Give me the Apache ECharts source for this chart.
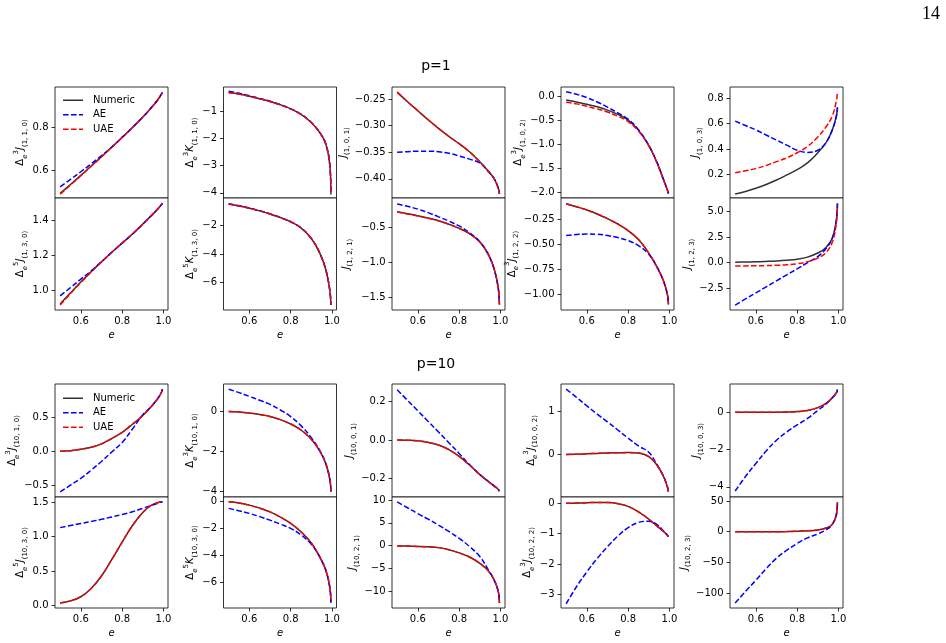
<!DOCTYPE html>
<html>
<head>
<meta charset="utf-8">
<script src="https://cdn.jsdelivr.net/npm/echarts@6/dist/echarts.min.js"></script>
<style>
html, body { margin: 0; padding: 0; background: #fff; }
#chart { width: 946px; height: 643px; }
</style>
</head>
<body>
<div id="chart"></div>
<script>
// eccentricity samples shared by every panel
var E = [0.5, 0.55, 0.6, 0.65, 0.7, 0.75, 0.8, 0.85, 0.9, 0.94, 0.97, 0.99, 0.995];
var X_TICKS = [0.6, 0.8, 1.0];

// ---- p = 1 ----
var j110_num = [0.490, 0.532, 0.575, 0.619, 0.663, 0.708, 0.754, 0.801, 0.850, 0.893, 0.928, 0.958, 0.966];
var j110_ae  = [0.521, 0.556, 0.592, 0.629, 0.668, 0.709, 0.754, 0.801, 0.850, 0.893, 0.928, 0.958, 0.966];
var j110_uae = [0.486, 0.529, 0.573, 0.618, 0.662, 0.708, 0.754, 0.801, 0.850, 0.893, 0.928, 0.958, 0.966];

var j130_num = [0.920, 0.984, 1.046, 1.105, 1.161, 1.216, 1.268, 1.320, 1.377, 1.424, 1.460, 1.488, 1.496];
var j130_ae  = [0.967, 1.014, 1.062, 1.110, 1.162, 1.216, 1.268, 1.320, 1.377, 1.424, 1.460, 1.488, 1.496];
var j130_uae = [0.914, 0.980, 1.043, 1.103, 1.160, 1.216, 1.268, 1.320, 1.377, 1.424, 1.460, 1.488, 1.496];

var k110_num = [-0.32, -0.38, -0.46, -0.55, -0.65, -0.77, -0.92, -1.12, -1.42, -1.78, -2.2, -3.0, -4.05];
var k110_ae  = [-0.28, -0.35, -0.44, -0.54, -0.64, -0.77, -0.92, -1.12, -1.42, -1.78, -2.2, -3.0, -4.05];
var k110_uae = [-0.32, -0.38, -0.46, -0.55, -0.65, -0.77, -0.92, -1.12, -1.42, -1.78, -2.2, -3.0, -4.05];

var k130_num = [-0.47, -0.60, -0.76, -0.95, -1.17, -1.42, -1.72, -2.15, -2.9, -3.9, -5.1, -6.6, -7.6];
var k130_ae  = [-0.45, -0.58, -0.75, -0.94, -1.16, -1.42, -1.72, -2.15, -2.9, -3.9, -5.1, -6.6, -7.6];
var k130_uae = [-0.47, -0.60, -0.76, -0.95, -1.17, -1.42, -1.72, -2.15, -2.9, -3.9, -5.1, -6.6, -7.6];

var j101_num = [-0.237, -0.255, -0.272, -0.289, -0.305, -0.320, -0.334, -0.349, -0.368, -0.385, -0.400, -0.418, -0.428];
var j101_ae  = [-0.350, -0.349, -0.348, -0.348, -0.349, -0.352, -0.357, -0.363, -0.370, -0.386, -0.400, -0.418, -0.428];
var j101_uae = [-0.237, -0.255, -0.272, -0.289, -0.305, -0.320, -0.334, -0.349, -0.368, -0.385, -0.400, -0.418, -0.428];

var j121_num = [-0.277, -0.305, -0.334, -0.368, -0.405, -0.455, -0.514, -0.590, -0.71, -0.88, -1.10, -1.38, -1.60];
var j121_ae  = [-0.167, -0.200, -0.240, -0.290, -0.350, -0.410, -0.480, -0.575, -0.705, -0.88, -1.10, -1.38, -1.60];
var j121_uae = [-0.282, -0.309, -0.337, -0.370, -0.406, -0.455, -0.514, -0.590, -0.71, -0.88, -1.10, -1.38, -1.60];

var j102_num = [-0.07, -0.11, -0.16, -0.21, -0.28, -0.37, -0.49, -0.70, -1.02, -1.38, -1.72, -1.95, -2.03];
var j102_ae  = [0.105, 0.05, -0.02, -0.11, -0.22, -0.34, -0.47, -0.69, -1.02, -1.38, -1.72, -1.95, -2.03];
var j102_uae = [-0.117, -0.15, -0.20, -0.255, -0.32, -0.41, -0.52, -0.72, -1.03, -1.39, -1.73, -1.96, -2.04];

var j122_num = [-0.098, -0.128, -0.16, -0.20, -0.247, -0.30, -0.365, -0.455, -0.59, -0.73, -0.86, -1.0, -1.1];
var j122_ae  = [-0.414, -0.405, -0.40, -0.402, -0.415, -0.435, -0.465, -0.515, -0.60, -0.73, -0.86, -1.0, -1.1];
var j122_uae = [-0.098, -0.128, -0.16, -0.20, -0.247, -0.30, -0.365, -0.455, -0.59, -0.73, -0.86, -1.0, -1.1];

var j103_num = [0.044, 0.065, 0.09, 0.12, 0.155, 0.195, 0.237, 0.29, 0.37, 0.45, 0.55, 0.66, 0.72];
var j103_ae  = [0.62, 0.585, 0.55, 0.51, 0.47, 0.43, 0.39, 0.372, 0.39, 0.45, 0.55, 0.66, 0.73];
var j103_uae = [0.213, 0.228, 0.245, 0.27, 0.30, 0.33, 0.37, 0.42, 0.495, 0.575, 0.66, 0.78, 0.85];

var j123_num = [0.05, 0.07, 0.09, 0.13, 0.18, 0.25, 0.35, 0.55, 0.95, 1.5, 2.4, 4.2, 5.8];
var j123_ae  = [-4.15, -3.55, -2.96, -2.37, -1.77, -1.18, -0.6, 0.0, 0.6, 1.4, 2.4, 4.2, 5.8];
var j123_uae = [-0.32, -0.31, -0.30, -0.28, -0.25, -0.20, -0.10, 0.10, 0.45, 1.0, 2.0, 3.9, 5.6];

// ---- p = 10 ----
var q110_num = [0.0, 0.01, 0.03, 0.06, 0.11, 0.19, 0.28, 0.40, 0.53, 0.66, 0.77, 0.87, 0.92];
var q110_ae  = [-0.6, -0.5, -0.4, -0.28, -0.15, -0.01, 0.13, 0.33, 0.54, 0.66, 0.77, 0.87, 0.92];
var q110_uae = [0.0, 0.01, 0.03, 0.06, 0.11, 0.19, 0.28, 0.40, 0.53, 0.66, 0.77, 0.87, 0.92];

var q130_num = [0.04, 0.07, 0.13, 0.25, 0.43, 0.67, 0.92, 1.16, 1.35, 1.45, 1.49, 1.50, 1.50];
var q130_ae  = [1.13, 1.16, 1.19, 1.22, 1.25, 1.285, 1.32, 1.36, 1.41, 1.45, 1.48, 1.50, 1.50];
var q130_uae = [0.04, 0.07, 0.13, 0.25, 0.43, 0.67, 0.92, 1.16, 1.35, 1.45, 1.49, 1.50, 1.50];

var r110_num = [0.0, -0.02, -0.07, -0.14, -0.24, -0.4, -0.62, -0.92, -1.38, -1.95, -2.6, -3.4, -4.0];
var r110_ae  = [1.12, 0.95, 0.76, 0.57, 0.36, 0.08, -0.25, -0.7, -1.3, -1.93, -2.6, -3.4, -4.0];
var r110_uae = [0.0, -0.02, -0.07, -0.14, -0.24, -0.4, -0.62, -0.92, -1.38, -1.95, -2.6, -3.4, -4.0];

var r130_num = [-0.05, -0.14, -0.3, -0.52, -0.8, -1.18, -1.65, -2.27, -3.1, -4.1, -5.1, -6.4, -7.5];
var r130_ae  = [-0.54, -0.72, -0.91, -1.15, -1.41, -1.7, -2.02, -2.5, -3.2, -4.1, -5.1, -6.4, -7.5];
var r130_uae = [-0.05, -0.14, -0.3, -0.52, -0.8, -1.18, -1.65, -2.27, -3.1, -4.1, -5.1, -6.4, -7.5];

var q101_num = [0.0, -0.001, -0.004, -0.012, -0.026, -0.05, -0.085, -0.13, -0.18, -0.215, -0.24, -0.258, -0.266];
var q101_ae  = [0.262, 0.207, 0.152, 0.097, 0.042, -0.014, -0.07, -0.128, -0.18, -0.215, -0.24, -0.258, -0.266];
var q101_uae = [0.0, -0.001, -0.004, -0.012, -0.026, -0.05, -0.085, -0.13, -0.18, -0.215, -0.24, -0.258, -0.266];

var q121_num = [-0.1, -0.12, -0.18, -0.28, -0.45, -0.9, -1.6, -2.5, -3.9, -5.5, -7.6, -10.2, -12.6];
var q121_ae  = [9.6, 8.3, 7.0, 5.8, 4.5, 3.1, 1.6, -0.2, -2.4, -5.2, -7.6, -10.2, -12.6];
var q121_uae = [-0.1, -0.12, -0.18, -0.28, -0.45, -0.9, -1.6, -2.5, -3.9, -5.5, -7.6, -10.2, -12.6];

var q102_num = [0.0, 0.005, 0.015, 0.025, 0.035, 0.04, 0.045, 0.035, -0.05, -0.25, -0.5, -0.75, -0.87];
var q102_ae  = [1.52, 1.33, 1.13, 0.94, 0.76, 0.57, 0.38, 0.2, 0.05, -0.24, -0.5, -0.75, -0.87];
var q102_uae = [0.0, 0.005, 0.015, 0.025, 0.035, 0.04, 0.045, 0.035, -0.05, -0.25, -0.5, -0.75, -0.87];

var q122_num = [0.0, 0.01, 0.02, 0.03, 0.03, -0.01, -0.1, -0.28, -0.52, -0.75, -0.92, -1.05, -1.1];
var q122_ae  = [-3.31, -2.75, -2.26, -1.82, -1.43, -1.08, -0.8, -0.63, -0.59, -0.7, -0.9, -1.04, -1.1];
var q122_uae = [0.0, 0.01, 0.02, 0.03, 0.03, -0.01, -0.1, -0.28, -0.52, -0.75, -0.92, -1.05, -1.1];

var q103_num = [0.0, 0.0, 0.0, 0.002, 0.006, 0.015, 0.04, 0.1, 0.25, 0.48, 0.78, 1.05, 1.22];
var q103_ae  = [-4.23, -3.45, -2.75, -2.08, -1.5, -1.05, -0.68, -0.33, 0.1, 0.45, 0.78, 1.05, 1.22];
var q103_uae = [0.0, 0.0, 0.0, 0.002, 0.006, 0.015, 0.04, 0.1, 0.25, 0.48, 0.78, 1.05, 1.22];

var q123_num = [0, 0, 0, 0, 0.1, 0.3, 0.7, 1.5, 3, 6, 12, 28, 48];
var q123_ae  = [-116, -97, -79, -60, -43, -30, -19, -10, -3.5, 3, 12, 28, 48];
var q123_uae = [0, 0, 0, 0, 0.1, 0.3, 0.7, 1.5, 3, 6, 12, 28, 48];

// y tick labels per panel
var yt_j110 = [0.6, 0.8],            yt_j130 = [1.0, 1.2, 1.4];
var yt_k110 = [-4, -3, -2, -1],      yt_k130 = [-6, -4, -2];
var yt_j101 = [-0.40, -0.35, -0.30, -0.25], yt_j121 = [-1.5, -1.0, -0.5];
var yt_j102 = [-2.0, -1.5, -1.0, -0.5, 0.0], yt_j122 = [-1.00, -0.75, -0.50, -0.25];
var yt_j103 = [0.2, 0.4, 0.6, 0.8],  yt_j123 = [-2.5, 0.0, 2.5, 5.0];
var yt_q110 = [-0.5, 0.0, 0.5],      yt_q130 = [0.0, 0.5, 1.0, 1.5];
var yt_r110 = [-4, -2, 0],           yt_r130 = [-6, -4, -2, 0];
var yt_q101 = [-0.2, 0.0, 0.2],      yt_q121 = [-10, -5, 0, 5, 10];
var yt_q102 = [0, 1],                yt_q122 = [-3, -2, -1, 0];
var yt_q103 = [-4, -2, 0],           yt_q123 = [-100, -50, 0, 50];

var COL_LEFT = [55, 223.5, 392, 561, 730];
var COL_W = 113;
var ROWS = [[87, 111], [198, 112], [384, 113], [497, 111]];

// panel table: [col, row, delta order (0 = none), letter, indices, num, ae, uae, ymin, ymax, ticks, decimals, nameGap]
var panels = [
  [0, 0, 3, 'J', '1, 1, 0', j110_num, j110_ae, j110_uae, 0.468, 0.992, yt_j110, 1, 33],
  [0, 1, 5, 'J', '1, 3, 0', j130_num, j130_ae, j130_uae, 0.886, 1.526, yt_j130, 1, 33],
  [1, 0, 3, 'K', '1, 1, 0', k110_num, k110_ae, k110_uae, -4.19, -0.12, yt_k110, 0, 31],
  [1, 1, 5, 'K', '1, 3, 0', k130_num, k130_ae, k130_uae, -7.96, -0.04, yt_k130, 0, 31],
  [2, 0, 0, 'J', '1, 0, 1', j101_num, j101_ae, j101_uae, -0.436, -0.2274, yt_j101, 2, 46],
  [2, 1, 0, 'J', '1, 2, 1', j121_num, j121_ae, j121_uae, -1.68, -0.081, yt_j121, 1, 46],
  [3, 0, 3, 'J', '1, 0, 2', j102_num, j102_ae, j102_uae, -2.12, 0.203, yt_j102, 1, 41],
  [3, 1, 3, 'J', '1, 2, 2', j122_num, j122_ae, j122_uae, -1.156, -0.041, yt_j122, 2, 41],
  [4, 0, 0, 'J', '1, 0, 3', j103_num, j103_ae, j103_uae, 0.013, 0.889, yt_j103, 1, 31],
  [4, 1, 0, 'J', '1, 2, 3', j123_num, j123_ae, j123_uae, -4.63, 6.34, yt_j123, 1, 41],
  [0, 2, 3, 'J', '10, 1, 0', q110_num, q110_ae, q110_uae, -0.676, 0.996, yt_q110, 1, 42],
  [0, 3, 5, 'J', '10, 3, 0', q130_num, q130_ae, q130_uae, -0.033, 1.573, yt_q130, 1, 33],
  [1, 2, 3, 'K', '10, 1, 0', r110_num, r110_ae, r110_uae, -4.27, 1.38, yt_r110, 0, 31],
  [1, 3, 5, 'K', '10, 3, 0', r130_num, r130_ae, r130_uae, -7.9, 0.3, yt_r130, 0, 31],
  [2, 2, 0, 'J', '10, 0, 1', q101_num, q101_ae, q101_uae, -0.297, 0.292, yt_q101, 1, 39],
  [2, 3, 0, 'J', '10, 2, 1', q121_num, q121_ae, q121_uae, -13.7, 10.66, yt_q121, 0, 39],
  [3, 2, 3, 'J', '10, 0, 2', q102_num, q102_ae, q102_uae, -0.99, 1.64, yt_q102, 0, 30],
  [3, 3, 3, 'J', '10, 2, 2', q122_num, q122_ae, q122_uae, -3.45, 0.21, yt_q122, 0, 30],
  [4, 2, 0, 'J', '10, 0, 3', q103_num, q103_ae, q103_uae, -4.55, 1.52, yt_q103, 0, 31],
  [4, 3, 0, 'J', '10, 2, 3', q123_num, q123_ae, q123_uae, -124, 56.5, yt_q123, 0, 41]
];

function pairs(ys) {
  var out = [];
  for (var i = 0; i < ys.length; i++) out.push([E[i], ys[i]]);
  return out;
}

function fmt(v, d) {
  var s = Math.abs(v) < 1e-9 ? (0).toFixed(d) : v.toFixed(d);
  return s.replace('-', '\u2212');
}

function yName(order, letter, idx) {
  var s = '';
  if (order) s += '{d|\u0394}{be|e}{s|' + order + '}';
  return s + '{v|' + letter + '}{b|(' + idx + ')}';
}

var FONT = 'DejaVu Sans';
var richName = {
  d: { fontSize: 10, lineHeight: 16, fontFamily: FONT, color: '#000' },
  v: { fontSize: 10, lineHeight: 16, fontFamily: FONT, fontStyle: 'italic', color: '#000' },
  s: { fontSize: 7, fontFamily: FONT, verticalAlign: 'top', color: '#000' },
  b: { fontSize: 7, fontFamily: FONT, verticalAlign: 'bottom', color: '#000' },
  be: { fontSize: 7, fontFamily: FONT, fontStyle: 'italic', verticalAlign: 'bottom', color: '#000' }
};

var grids = [], xAxes = [], yAxes = [], series = [];
var DASH = [5.5, 2.4];

panels.forEach(function (p, i) {
  var col = p[0], row = p[1];
  var bottom = (row === 1 || row === 3);
  grids.push({
    left: COL_LEFT[col], top: ROWS[row][0], width: COL_W, height: ROWS[row][1],
    show: true, borderColor: '#000', borderWidth: 0.8, backgroundColor: '#fff',
    outerBoundsMode: 'none'
  });
  xAxes.push({
    type: 'value', gridIndex: i, min: 0.475, max: 1.022,
    axisLine: { show: false, onZero: false }, splitLine: { show: false },
    axisTick: { show: bottom, customValues: X_TICKS, length: 3.5, lineStyle: { color: '#000', width: 0.8 } },
    axisLabel: { show: bottom, customValues: X_TICKS, margin: 6, color: '#000', fontSize: 10, fontFamily: FONT,
      formatter: function (v) { return fmt(v, 1); } },
    name: bottom ? 'e' : '', nameLocation: 'middle', nameGap: 25,
    nameTextStyle: { fontStyle: 'italic', fontSize: 10, fontFamily: FONT, color: '#000', verticalAlign: 'middle' }
  });
  var dec = p[11];
  yAxes.push({
    type: 'value', gridIndex: i, min: p[8], max: p[9],
    axisLine: { show: false, onZero: false }, splitLine: { show: false },
    axisTick: { customValues: p[10], length: 3.5, lineStyle: { color: '#000', width: 0.8 } },
    axisLabel: { customValues: p[10], margin: 6.5, color: '#000', fontSize: 10, fontFamily: FONT,
      formatter: function (v) { return fmt(v, dec); } },
    name: yName(p[2], p[3], p[4]), nameLocation: 'middle', nameRotate: 90, nameGap: p[12],
    nameTextStyle: { rich: richName, verticalAlign: 'middle', align: 'center' }
  });
  var defs = [
    ['Numeric', p[5], '#333333', 'solid'],
    ['AE', p[6], '#0000ff', DASH],
    ['UAE', p[7], '#ff0000', DASH]
  ];
  defs.forEach(function (d) {
    series.push({
      name: d[0], type: 'line', xAxisIndex: i, yAxisIndex: i,
      data: pairs(d[1]), smooth: 0.4,
      symbol: 'none', color: d[2], clip: true,
      lineStyle: { color: d[2], width: 1.5, type: d[3] },
      itemStyle: { color: d[2] },
      emphasis: { disabled: true }
    });
  });
});

var solidIcon = 'path://M0 0H20V1.5H0Z';
var dashIcon = 'path://M0 0H5.5V1.5H0Z M8 0H13.5V1.5H8Z M16 0H20V1.5H16Z';
function legendAt(top) {
  return {
    orient: 'vertical', left: 63, top: top, padding: 0, itemWidth: 20, itemHeight: 2, itemGap: 2,
    selectedMode: false, itemStyle: { borderWidth: 0 },
    textStyle: { fontSize: 10, fontFamily: FONT, color: '#000', lineHeight: 12.5, padding: [0, 0, 0, 5] },
    data: [
      { name: 'Numeric', icon: solidIcon },
      { name: 'AE', icon: dashIcon },
      { name: 'UAE', icon: dashIcon }
    ]
  };
}

var chart = echarts.init(document.getElementById('chart'));
chart.setOption({
  animation: false,
  backgroundColor: '#fff',
  grid: grids,
  xAxis: xAxes,
  yAxis: yAxes,
  series: series,
  legend: [legendAt(94), legendAt(392)],
  graphic: [
    { type: 'text', x: 436, y: 66, style: { text: 'p=1', font: '14px "DejaVu Sans"', fill: '#000', align: 'center', verticalAlign: 'middle' } },
    { type: 'text', x: 436, y: 364, style: { text: 'p=10', font: '14px "DejaVu Sans"', fill: '#000', align: 'center', verticalAlign: 'middle' } },
    { type: 'text', x: 931, y: 14, style: { text: '14', font: '18px "Liberation Serif"', fill: '#000', align: 'center', verticalAlign: 'middle' } }
  ]
});
</script>
</body>
</html>
